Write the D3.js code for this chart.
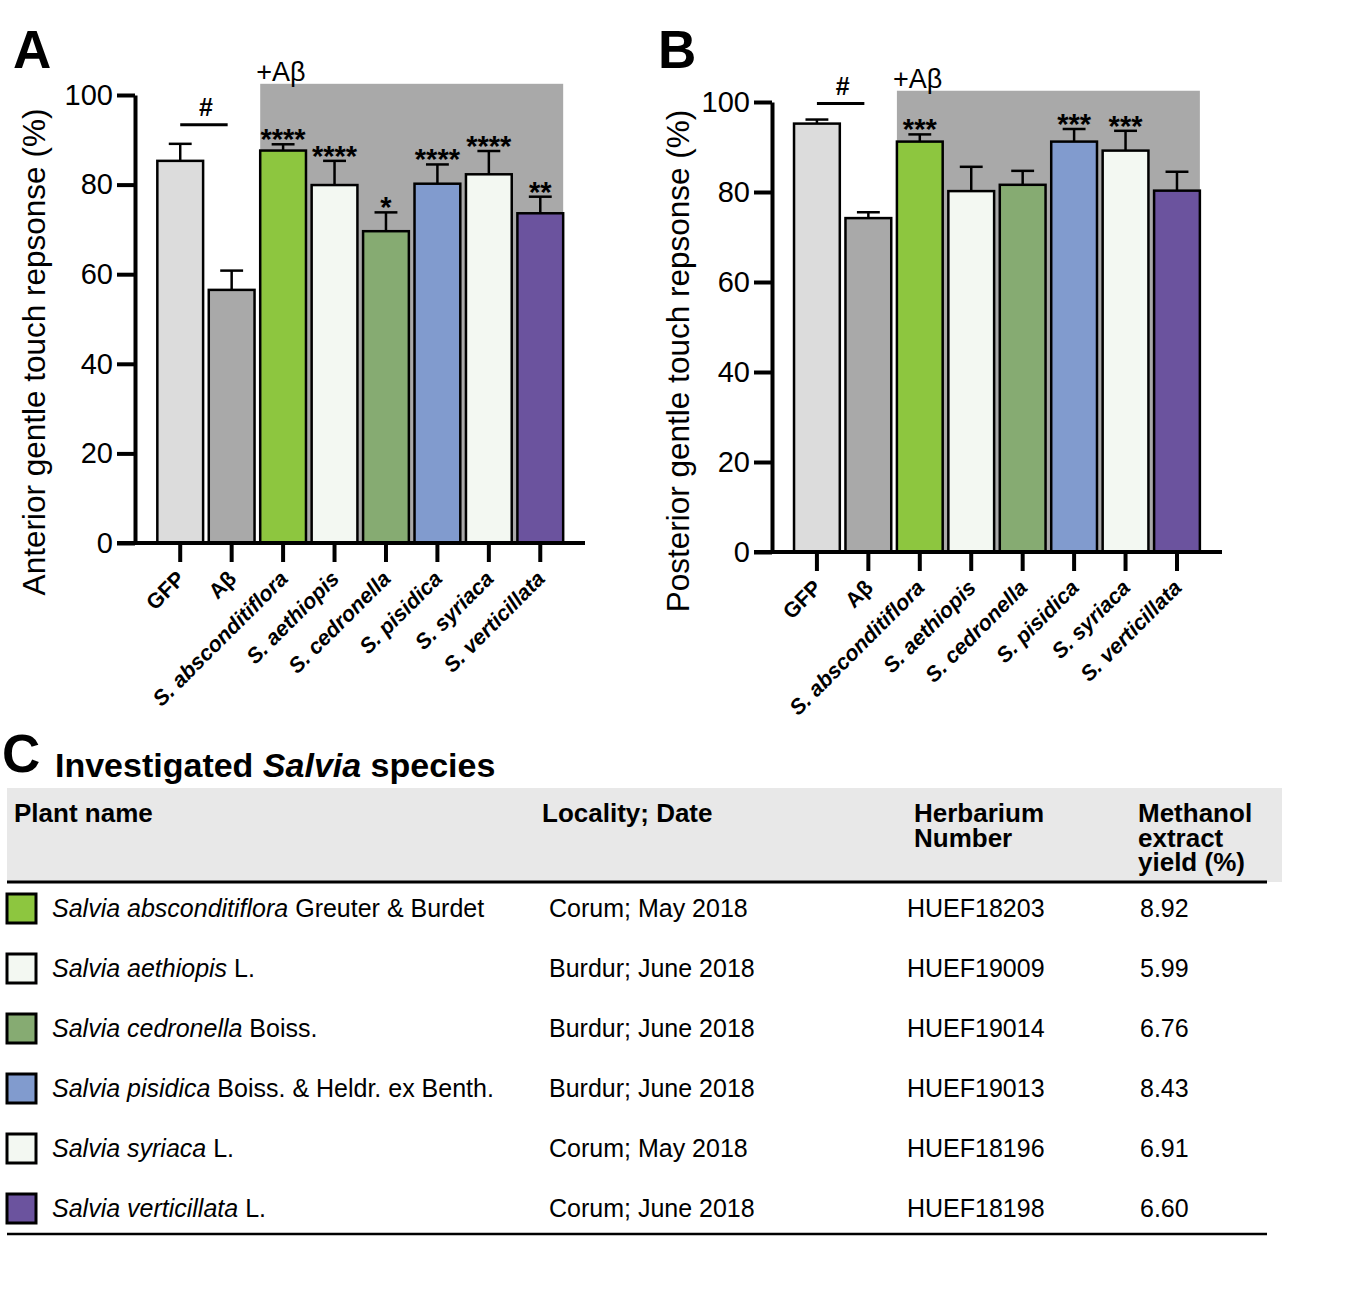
<!DOCTYPE html>
<html>
<head>
<meta charset="utf-8">
<script src="https://cdn.jsdelivr.net/npm/d3@7"></script>
<style>
  body { margin: 0; background: #fff; }
  svg text { font-family: "Liberation Sans", Arial, Helvetica, sans-serif; fill: #000; }
</style>
</head>
<body>
<div id="fig"></div>
<script>
// categories (x axis) and colours
const groups = ["GFP", "Aβ", "S. absconditiflora", "S. aethiopis", "S. cedronella", "S. pisidica", "S. syriaca", "S. verticillata"];
const barColors = ["#dcdcdc", "#a9a9a9", "#8dc63f", "#f3f8f2", "#86ab72", "#819bce", "#f3f8f2", "#6b539e"];

// panel A - anterior response, mean and upper error (SEM)
const anteriorMean = [85.3, 56.5, 87.6, 79.9, 69.6, 80.2, 82.3, 73.6];
const anteriorErr  = [3.8, 4.3, 1.4, 5.4, 4.2, 4.3, 5.2, 3.7];
const anteriorSig  = ["", "", "****", "****", "*", "****", "****", "**"];

// panel B - posterior response
const posteriorMean = [95.2, 74.2, 91.2, 80.2, 81.6, 91.2, 89.2, 80.3];
const posteriorErr  = [0.9, 1.3, 1.6, 5.4, 3.1, 2.8, 4.4, 4.2];
const posteriorSig  = ["", "", "***", "", "", "***", "***", ""];

const yTicks = [0, 20, 40, 60, 80, 100];

// table C
const speciesNames = ["Salvia absconditiflora", "Salvia aethiopis", "Salvia cedronella", "Salvia pisidica", "Salvia syriaca", "Salvia verticillata"];
const authors = [" Greuter & Burdet", " L.", " Boiss.", " Boiss. & Heldr. ex Benth.", " L.", " L."];
const localities = ["Corum; May 2018", "Burdur; June 2018", "Burdur; June 2018", "Burdur; June 2018", "Corum; May 2018", "Corum; June 2018"];
const herbarium = ["HUEF18203", "HUEF19009", "HUEF19014", "HUEF19013", "HUEF18196", "HUEF18198"];
const yields = ["8.92", "5.99", "6.76", "8.43", "6.91", "6.60"];
const swatchColors = ["#8dc63f", "#f3f8f2", "#86ab72", "#819bce", "#f3f8f2", "#6b539e"];

const width = 1367, height = 1303;

const svg = d3.select("#fig").append("svg")
    .attr("width", width)
    .attr("height", height);

svg.append("rect").attr("width", width).attr("height", height).attr("fill", "#fff");

function drawPanel(opt) {
    const g = svg.append("g");

    const y = d3.scaleLinear().domain([0, 100]).range([opt.y0, opt.y100]);
    const x = d3.scaleBand()
        .domain(groups)
        .range(opt.xRange)
        .paddingInner(0.11)
        .paddingOuter(0.055);

    // shaded +Aβ region
    const shadeLeft = x(groups[2]);
    const shadeRight = x(groups[groups.length - 1]) + x.bandwidth();
    g.append("rect")
        .attr("x", shadeLeft)
        .attr("y", y(102.5))
        .attr("width", shadeRight - shadeLeft)
        .attr("height", y(0) - y(102.5))
        .attr("fill", "#a9a9a9");

    g.append("text")
        .attr("x", shadeLeft - 4)
        .attr("y", y(102.5) - 3)
        .attr("font-size", 27)
        .text("+Aβ");

    const data = groups.map((d, i) => ({ name: d, mean: opt.mean[i], err: opt.err[i], sig: opt.sig[i], color: barColors[i] }));

    // error bars (upper only)
    const eb = g.selectAll(".eb").data(data).enter().append("g");
    eb.append("line")
        .attr("x1", d => x(d.name) + x.bandwidth() / 2)
        .attr("x2", d => x(d.name) + x.bandwidth() / 2)
        .attr("y1", d => y(d.mean))
        .attr("y2", d => y(d.mean + d.err))
        .attr("stroke", "#000").attr("stroke-width", 2.5);
    eb.append("line")
        .attr("x1", d => x(d.name) + x.bandwidth() / 4)
        .attr("x2", d => x(d.name) + x.bandwidth() * 3 / 4)
        .attr("y1", d => y(d.mean + d.err))
        .attr("y2", d => y(d.mean + d.err))
        .attr("stroke", "#000").attr("stroke-width", 2.5);

    // bars
    g.selectAll(".bar").data(data).enter().append("rect")
        .attr("x", d => x(d.name))
        .attr("y", d => y(d.mean))
        .attr("width", x.bandwidth())
        .attr("height", d => y(0) - y(d.mean))
        .attr("fill", d => d.color)
        .attr("stroke", "#000")
        .attr("stroke-width", 2.5);

    // significance stars
    g.selectAll(".sig").data(data).enter().append("text")
        .attr("x", d => x(d.name) + x.bandwidth() / 2)
        .attr("y", d => y(d.mean + d.err) + 5)
        .attr("text-anchor", "middle")
        .attr("font-size", 29)
        .attr("font-weight", "bold")
        .text(d => d.sig);

    // # comparison GFP vs Aβ
    const gfpTop = y(opt.mean[0] + opt.err[0]);
    const cx0 = x(groups[0]) + x.bandwidth() / 2, cx1 = x(groups[1]) + x.bandwidth() / 2;
    g.append("line")
        .attr("x1", cx0).attr("x2", cx1 - 4)
        .attr("y1", gfpTop - opt.hashGap).attr("y2", gfpTop - opt.hashGap)
        .attr("stroke", "#000").attr("stroke-width", 3);
    g.append("text")
        .attr("x", (cx0 + cx1) / 2)
        .attr("y", gfpTop - opt.hashGap - 9)
        .attr("text-anchor", "middle")
        .attr("font-size", 25)
        .attr("font-weight", "bold")
        .text("#");

    // y axis
    const yAxis = g.append("g")
        .attr("transform", `translate(${opt.axisX},0)`)
        .call(d3.axisLeft(y).tickValues(yTicks).tickSize(18).tickSizeOuter(0).tickPadding(4));
    yAxis.selectAll("path, line").attr("stroke", "#000").attr("stroke-width", 4);
    yAxis.selectAll("text").attr("font-size", 29).attr("font-family", null).attr("fill", "#000");

    // x axis
    const xAxis = g.append("g")
        .attr("transform", `translate(0,${y(0)})`)
        .call(d3.axisBottom(x).tickSize(19).tickSizeOuter(0));
    xAxis.select(".domain").remove();
    xAxis.selectAll("line").attr("stroke", "#000").attr("stroke-width", 4);
    xAxis.selectAll("text")
        .attr("font-family", null)
        .attr("font-size", 21.5)
        .attr("font-weight", "bold")
        .attr("font-style", (d, i) => i < 2 ? "normal" : "italic")
        .attr("text-anchor", "end")
        .attr("x", 0).attr("y", 0).attr("dy", 0)
        .attr("fill", "#000")
        .attr("transform", "translate(6,37) rotate(-45)");
    g.append("line")
        .attr("x1", opt.axisX - 18).attr("x2", opt.xEnd)
        .attr("y1", y(0)).attr("y2", y(0))
        .attr("stroke", "#000").attr("stroke-width", 4);

    // y title
    g.append("text")
        .attr("transform", `translate(${opt.titleX},${opt.titleY}) rotate(-90)`)
        .attr("text-anchor", "middle")
        .attr("font-size", 31.5)
        .text(opt.title);

    // panel letter
    svg.append("text")
        .attr("x", opt.letterX).attr("y", 68)
        .attr("font-size", 53).attr("font-weight", "bold")
        .text(opt.letter);
}

drawPanel({
    letter: "A", letterX: 13,
    mean: anteriorMean, err: anteriorErr, sig: anteriorSig,
    y0: 543, y100: 95, axisX: 135, xRange: [154.5, 566], xEnd: 585,
    title: "Anterior gentle touch repsonse (%)", titleX: 45, titleY: 352, hashGap: 19
});

drawPanel({
    letter: "B", letterX: 658,
    mean: posteriorMean, err: posteriorErr, sig: posteriorSig,
    y0: 552, y100: 102, axisX: 772, xRange: [791.2, 1202.7], xEnd: 1222,
    title: "Posterior gentle touch repsonse (%)", titleX: 689, titleY: 361, hashGap: 16
});

// ---- panel C: table ----
const tg = svg.append("g");
tg.append("text").attr("x", 2).attr("y", 772).attr("font-size", 53).attr("font-weight", "bold").text("C");
const title = tg.append("text").attr("x", 55).attr("y", 777).attr("font-size", 34).attr("font-weight", "bold");
title.append("tspan").text("Investigated ");
title.append("tspan").attr("font-style", "italic").text("Salvia");
title.append("tspan").text(" species");

tg.append("rect").attr("x", 7).attr("y", 788).attr("width", 1275).attr("height", 94).attr("fill", "#e8e8e8");
tg.append("line").attr("x1", 7).attr("x2", 1267).attr("y1", 882).attr("y2", 882).attr("stroke", "#000").attr("stroke-width", 3);

const headers = [
    { x: 14, lines: ["Plant name"] },
    { x: 542, lines: ["Locality; Date"] },
    { x: 914, lines: ["Herbarium", "Number"] },
    { x: 1138, lines: ["Methanol", "extract", "yield (%)"] }
];
headers.forEach(h => {
    const t = tg.append("text").attr("x", h.x).attr("y", 822)
        .attr("font-size", 26).attr("font-weight", "bold");
    h.lines.forEach((l, i) => {
        t.append("tspan").attr("x", h.x).attr("dy", i === 0 ? 0 : 24.5).text(l);
    });
});

const rowY = d3.scaleLinear().domain([0, 1]).range([908, 968]);
const rows = tg.selectAll(".row").data(speciesNames).enter().append("g")
    .attr("transform", (d, i) => `translate(0,${rowY(i)})`);
rows.append("rect")
    .attr("x", 7).attr("y", -14).attr("width", 29).attr("height", 29)
    .attr("fill", (d, i) => swatchColors[i]).attr("stroke", "#000").attr("stroke-width", 3);
const nameText = rows.append("text").attr("x", 52).attr("y", 9).attr("font-size", 25);
nameText.append("tspan").attr("font-style", "italic").text(d => d);
nameText.append("tspan").text((d, i) => authors[i]);
rows.append("text").attr("x", 549).attr("y", 9).attr("font-size", 25).text((d, i) => localities[i]);
rows.append("text").attr("x", 907).attr("y", 9).attr("font-size", 25).text((d, i) => herbarium[i]);
rows.append("text").attr("x", 1140).attr("y", 9).attr("font-size", 25).text((d, i) => yields[i]);

tg.append("line").attr("x1", 7).attr("x2", 1267).attr("y1", 1234).attr("y2", 1234).attr("stroke", "#000").attr("stroke-width", 2.5);
</script>
</body>
</html>
